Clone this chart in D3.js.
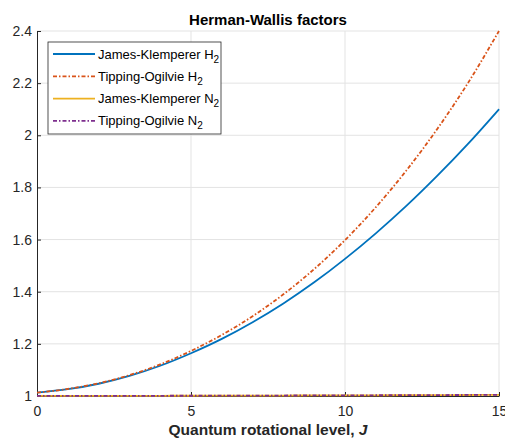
<!DOCTYPE html>
<html lang="en">
<head>
    <meta charset="UTF-8">
    <title>Herman-Wallis factors</title>
    <script src="https://d3js.org/d3.v7.min.js"></script>
    <style>
        body { margin: 0; background: #fff; }
        svg { display: block; font-family: "Liberation Sans", Arial, sans-serif; }
    </style>
</head>
<body>
<div id="chart"></div>
<script>
    // Data
    const levels = d3.range(0, 16);
    const jkH2 = [1.013, 1.026, 1.047, 1.077, 1.116, 1.164, 1.219, 1.283, 1.355, 1.436, 1.526, 1.624, 1.730, 1.845, 1.968, 2.100];
    const toH2 = [1.013, 1.027, 1.049, 1.080, 1.121, 1.173, 1.234, 1.306, 1.390, 1.487, 1.598, 1.724, 1.866, 2.025, 2.202, 2.400];
    const jkN2 = [1.0002, 1.0003, 1.0004, 1.0006, 1.0008, 1.0010, 1.0012, 1.0015, 1.0018, 1.0021, 1.0024, 1.0027, 1.0031, 1.0035, 1.0039, 1.0043];
    const toN2 = [1.0002, 1.0003, 1.0004, 1.0006, 1.0008, 1.0010, 1.0012, 1.0015, 1.0018, 1.0021, 1.0024, 1.0028, 1.0032, 1.0036, 1.0040, 1.0045];
    const xTicks = [0, 5, 10, 15];
    const yTicks = [1, 1.2, 1.4, 1.6, 1.8, 2, 2.2, 2.4];

    const series = [
        { name: "James-Klemperer H", sub: "2", values: jkH2, color: "#0072BD", dash: null },
        { name: "Tipping-Ogilvie H", sub: "2", values: toH2, color: "#D95319", dash: "4,2,1.5,2" },
        { name: "James-Klemperer N", sub: "2", values: jkN2, color: "#EDB120", dash: null },
        { name: "Tipping-Ogilvie N", sub: "2", values: toN2, color: "#7E2F8E", dash: "4,2,1.5,2" }
    ];

    const width = 505, height = 438;
    const margin = { top: 31, right: 6, bottom: 42, left: 37 };
    const iw = width - margin.left - margin.right;
    const ih = height - margin.top - margin.bottom;

    const svg = d3.select("#chart").append("svg")
        .attr("width", width)
        .attr("height", height);

    const g = svg.append("g")
        .attr("transform", `translate(${margin.left},${margin.top})`);

    const x = d3.scaleLinear().domain([0, 15]).range([0, iw]);
    const y = d3.scaleLinear().domain([1, 2.4]).range([ih, 0]);

    // grid
    g.append("g").selectAll("line")
        .data(xTicks.slice(1))
        .join("line")
        .attr("x1", d => x(d)).attr("x2", d => x(d))
        .attr("y1", 0).attr("y2", ih)
        .attr("stroke", "#e3e3e3").attr("stroke-width", 1);
    g.append("g").selectAll("line")
        .data(yTicks.slice(1))
        .join("line")
        .attr("x1", 0).attr("x2", iw)
        .attr("y1", d => y(d)).attr("y2", d => y(d))
        .attr("stroke", "#e3e3e3").attr("stroke-width", 1);

    // axes
    const xAxis = g.append("g")
        .attr("transform", `translate(0,${ih})`)
        .call(d3.axisBottom(x).tickValues(xTicks).tickFormat(d3.format("d")).tickSizeInner(-4).tickSizeOuter(0).tickPadding(10));
    const yAxis = g.append("g")
        .call(d3.axisLeft(y).tickValues(yTicks).tickFormat(d => d3.format("")(d)).tickSizeInner(-4).tickSizeOuter(0).tickPadding(5));

    [xAxis, yAxis].forEach(a => {
        a.select(".domain").attr("stroke", "#262626");
        a.selectAll(".tick line").attr("stroke", "#262626");
        a.selectAll(".tick text").attr("fill", "#262626").style("font-size", "14px").style("font-family", "Liberation Sans, Arial, sans-serif");
    });

    // lines
    const line = d3.line()
        .x((d, i) => x(levels[i]))
        .y(d => y(d))
        .curve(d3.curveMonotoneX);

    g.append("g").selectAll("path")
        .data(series)
        .join("path")
        .attr("d", d => line(d.values))
        .attr("fill", "none")
        .attr("stroke", d => d.color)
        .attr("stroke-width", 1.8)
        .attr("stroke-dasharray", d => d.dash);

    // title and label
    svg.append("text")
        .attr("x", margin.left + iw / 2)
        .attr("y", 25)
        .attr("text-anchor", "middle")
        .style("font-size", "15px")
        .style("font-weight", "bold")
        .attr("fill", "#000")
        .text("Herman-Wallis factors");

    const xl = svg.append("text")
        .attr("x", margin.left + iw / 2)
        .attr("y", 435)
        .attr("text-anchor", "middle")
        .style("font-size", "15.5px")
        .style("font-weight", "bold")
        .attr("fill", "#262626");
    xl.append("tspan").text("Quantum rotational level, ");
    xl.append("tspan").style("font-style", "italic").text("J");

    // legend
    const legend = svg.append("g").attr("transform", "translate(48,42)");
    legend.append("rect")
        .attr("width", 173).attr("height", 92)
        .attr("fill", "#fff")
        .attr("stroke", "#262626")
        .attr("stroke-width", 0.8);

    const rows = legend.selectAll("g.row")
        .data(series)
        .join("g")
        .attr("class", "row")
        .attr("transform", (d, i) => `translate(0,${12 + i * 22.3})`);

    rows.append("line")
        .attr("x1", 5).attr("x2", 47)
        .attr("stroke", d => d.color)
        .attr("stroke-width", 1.8)
        .attr("stroke-dasharray", d => d.dash);

    const lt = rows.append("text")
        .attr("x", 50)
        .attr("y", 4.5)
        .style("font-size", "13px")
        .attr("fill", "#000");
    lt.append("tspan").text(d => d.name);
    lt.append("tspan").attr("dy", 4).style("font-size", "10px").text(d => d.sub);
</script>
</body>
</html>
